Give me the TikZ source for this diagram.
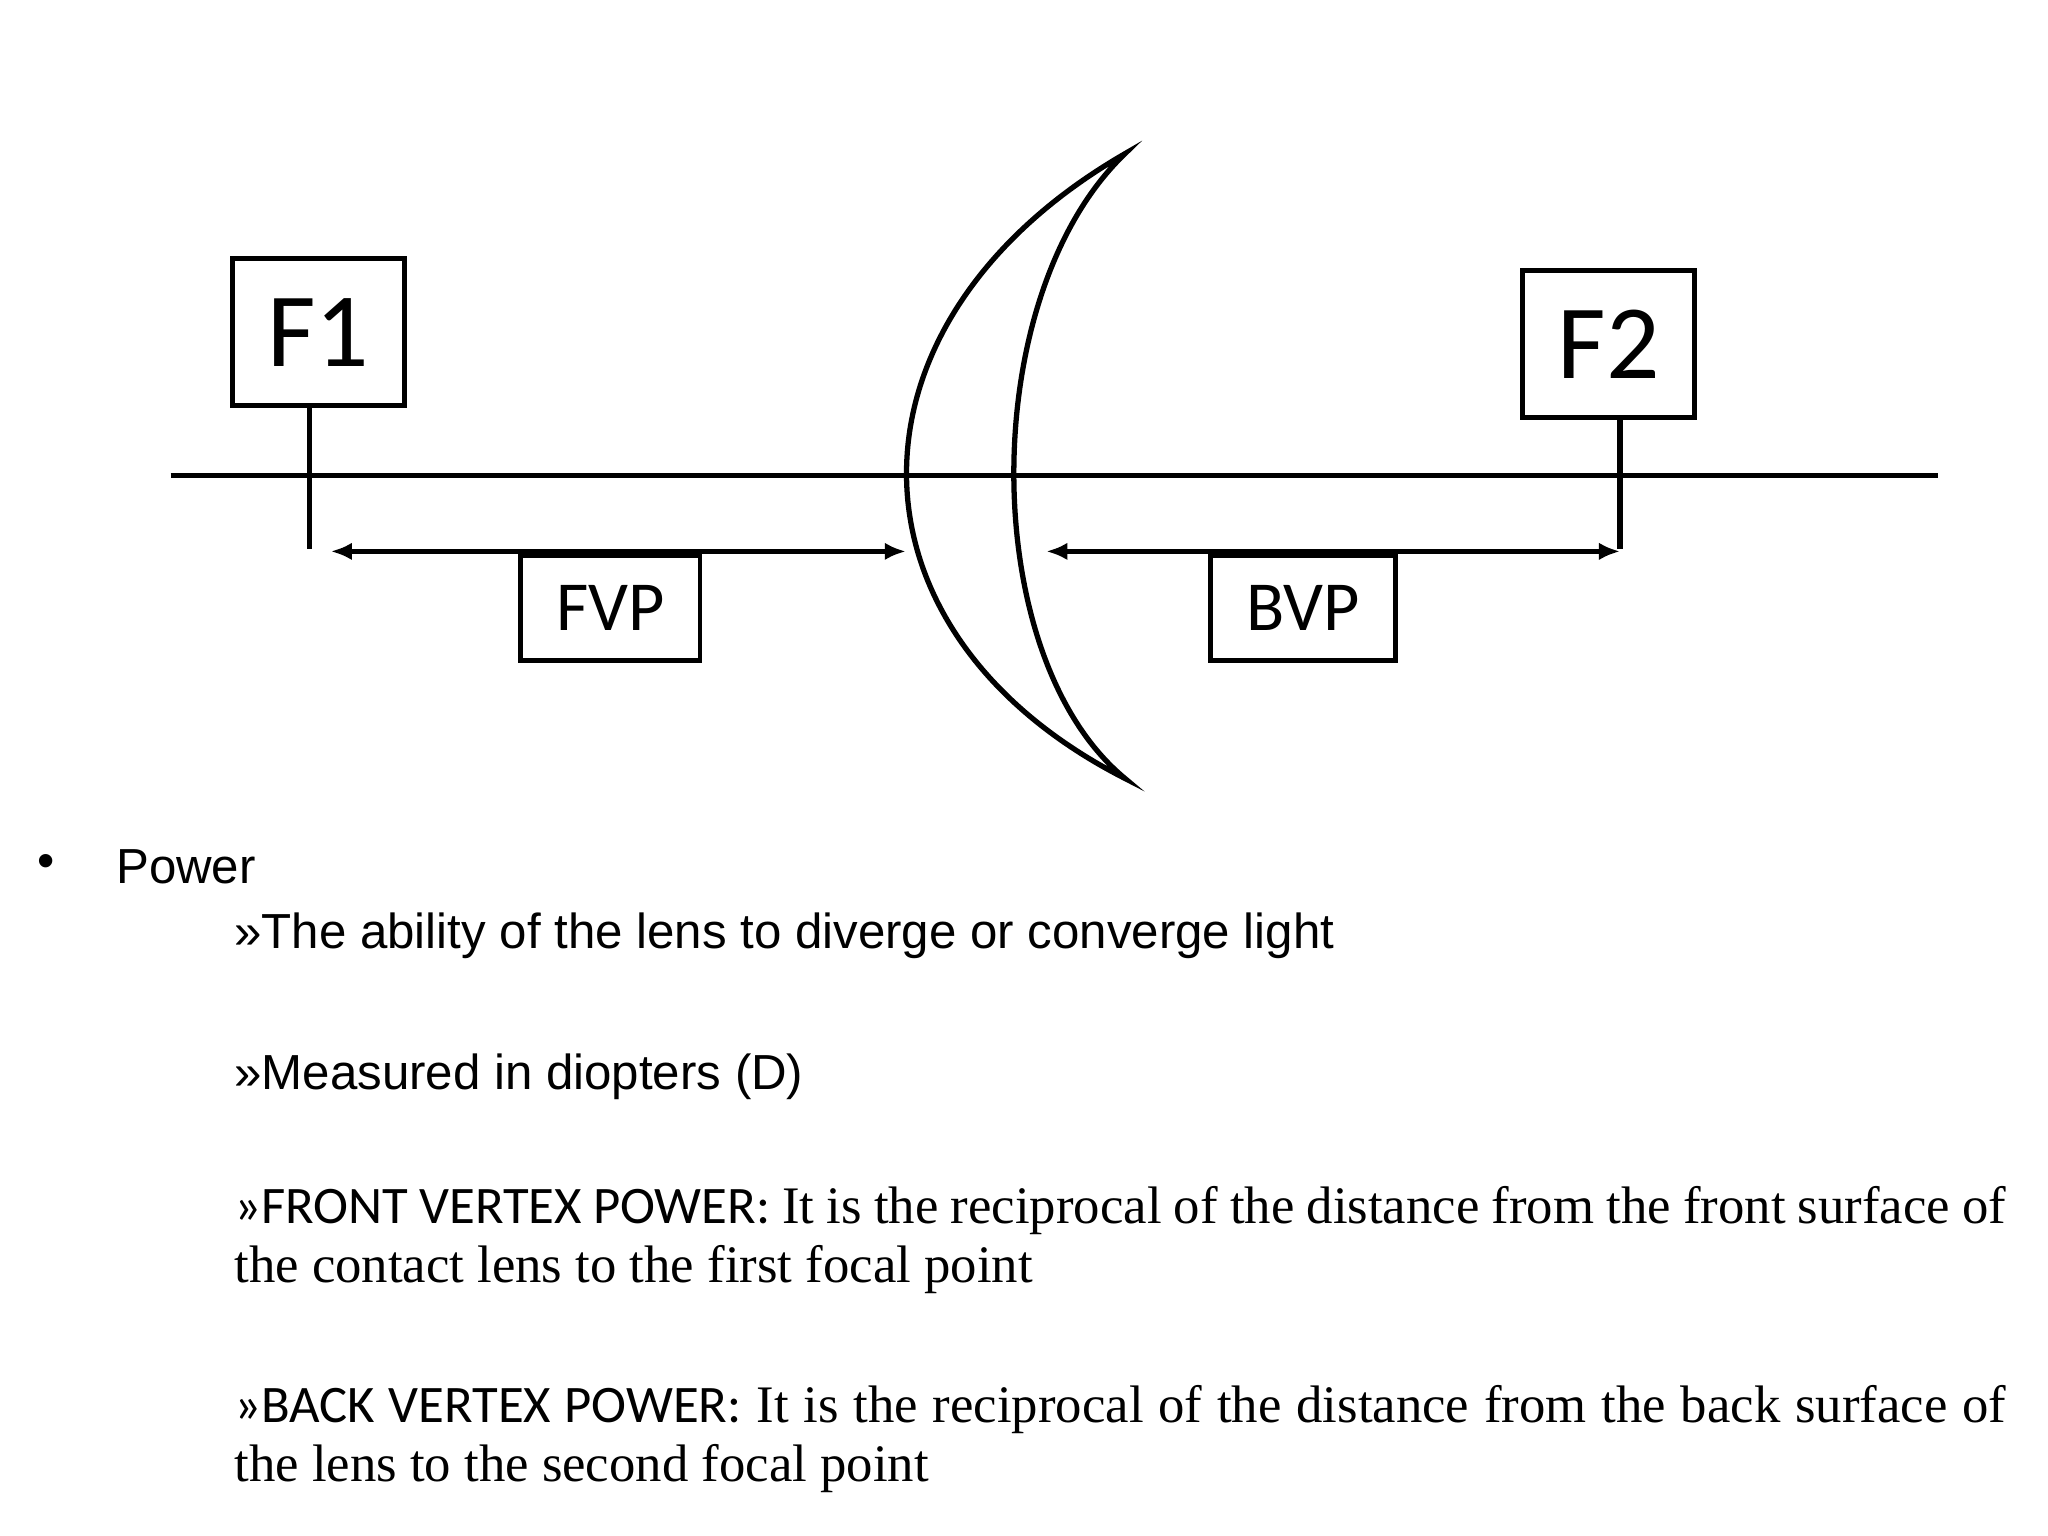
\documentclass[tikz,border=0pt]{standalone}
\usepackage{fontspec}
\setmainfont{Liberation Serif}
\newfontfamily\arialf{Liberation Sans}
\newfontfamily\calf{Carlito}
\usetikzlibrary{arrows.meta,positioning,calc}

\tikzset{
  lbl/.style={draw, line width=1.4pt, inner sep=0pt, font=\calf},
  dim/.style={line width=1.2pt, {Latex[length=6pt,width=5pt]}-{Latex[length=6pt,width=5pt]}},
  ax/.style={line width=1.5pt}
}

\begin{document}
\begin{tikzpicture}[x=0.013128cm, y=-0.013128cm]
    % page frame
    \useasboundingbox (0,0) rectangle (1560,1170);

    % optical axis
    \coordinate (L) at (130,362);
    \coordinate (R) at (1476,362);
    \draw[ax] (L) -- (R);

    % focal point labels
    \node[lbl, minimum width=131\pgflinewidth, minimum width=1.72cm, minimum height=1.47cm, font=\calf\fontsize{30}{30}\selectfont] (f1) at (242.5,253) {F1};
    \node[lbl, minimum width=1.72cm, minimum height=1.47cm, font=\calf\fontsize{30}{30}\selectfont] (f2) at (1225.5,262) {F2};
    \coordinate (t1) at (236,418);
    \coordinate (t2) at (1234,418);
    \draw[ax] (f1.south -| t1) -- (t1);
    \draw[ax] (f2.south -| t2) -- (t2);

    % the lens
    \draw[line width=1.5pt] (857,117) .. controls (635,245) and (635,480) .. (857,593)
                            .. controls (744,500) and (744,225) .. cycle;

    % vertex distances
    \coordinate (a1) at (252,420);
    \coordinate (a2) at (690,420);
    \coordinate (b1) at (797,420);
    \coordinate (b2) at (1234,420);
    \draw[dim] (a1) -- (a2);
    \draw[dim] (b1) -- (b2);
    \node[lbl, minimum width=1.79cm, minimum height=1.05cm, font=\calf\fontsize{20}{20}\selectfont] (fvp) at (465,463) {FVP};
    \node[lbl, minimum width=1.85cm, minimum height=1.05cm, font=\calf\fontsize{20}{20}\selectfont] (bvp) at (992.5,463) {BVP};

    % text below
    \node[anchor=west, inner sep=0pt, font=\arialf\fontsize{14}{16}\selectfont] (bul) at (28,660) {\textbullet};
    \node[anchor=west, inner sep=0pt, font=\arialf\fontsize{14}{16}\selectfont] (pow) at (88,660) {Power};
    \node[anchor=west, inner sep=0pt, font=\arialf\fontsize{14}{16}\selectfont] (l1) at (178,713) {»The ability of the lens to diverge or converge light};
    \node[anchor=west, inner sep=0pt, font=\arialf\fontsize{14}{16}\selectfont] (l2) at (178,820) {»Measured in diopters (D)};
    \node[anchor=north west, inner sep=0pt, text width=17.71cm, align=justify, font=\fontsize{15}{16.8}\selectfont] (l3) at (178,903)
      {{\calf »FRONT VERTEX POWER:} It is the reciprocal of the distance from the front surface of the contact lens to the first focal point};
    \node[anchor=north west, inner sep=0pt, text width=17.71cm, align=justify, font=\fontsize{15}{16.8}\selectfont] (l4) at (178,1055)
      {{\calf »BACK VERTEX POWER:} It is the reciprocal of the distance from the back surface of the lens to the second focal point};
\end{tikzpicture}
\end{document}
